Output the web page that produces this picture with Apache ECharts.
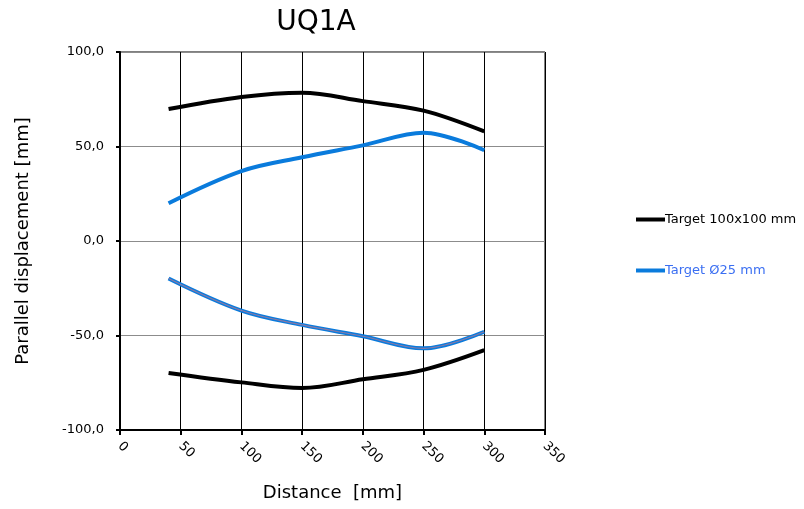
<!DOCTYPE html>
<html>
<head>
<meta charset="utf-8">
<script src="https://cdn.jsdelivr.net/npm/echarts@6/dist/echarts.min.js"></script>
<style>html,body{margin:0;padding:0;background:#fff}#c{width:804px;height:509px}</style>
</head>
<body>
<div id="c"></div>
<script>
const distances = [40, 100, 150, 200, 250, 300];
const target100Upper = [69.8, 76.2, 78.5, 74.0, 69.0, 58.0];
const target100Lower = [-69.8, -74.8, -77.8, -73.2, -68.2, -57.8];
const target25Upper = [20.0, 37.0, 44.3, 50.6, 57.3, 48.0];
const target25Lower = [-19.8, -36.8, -44.4, -50.4, -56.8, -48.0];
const titleText = 'UQ1A';
const xName = 'Distance  [mm]';
const yName = 'Parallel displacement [mm]';
const name100 = 'Target 100x100 mm';
const name25 = 'Target Ø25 mm';

const pairs = (xs, ys) => xs.map((x, i) => [x, ys[i]]);
const font = 'DejaVu Sans, Verdana, sans-serif';
const fmt = v => v.toFixed(1).replace('.', ',');

const chart = echarts.init(document.getElementById('c'));
const lineSeries = (name, data, color, width, z) => ({
  name, type: 'line', data, smooth: 0.35, symbol: 'none', silent: true,
  lineStyle: { color, width: width || 4 }, itemStyle: { color }, z: z || 5
});
chart.setOption({
  animation: false,
  title: { text: titleText, left: 311, top: 4, textAlign: 'center',
    textStyle: { fontFamily: font, fontWeight: 'normal', fontSize: 28, color: '#000' } },
  grid: { left: 120, right: 259, top: 52, bottom: 79, show: true,
    borderColor: '#000', borderWidth: 1, backgroundColor: 'transparent' },
  legend: {
    orient: 'vertical', left: 631, top: 208, itemGap: 38, itemWidth: 29, itemHeight: 4,
    icon: 'rect',
    data: [
      { name: name100, textStyle: { color: '#000' } },
      { name: name25, textStyle: { color: '#3b6ff2' } }
    ],
    textStyle: { fontFamily: font, fontSize: 13, padding: [0, 0, 0, -5] }
  },
  xAxis: {
    type: 'value', min: 0, max: 350, interval: 50,
    name: xName, nameLocation: 'middle', nameGap: 54,
    nameTextStyle: { fontFamily: font, fontSize: 18, color: '#000' },
    axisLine: { onZero: false, lineStyle: { color: '#000', width: 2 } },
    axisTick: { show: true, length: 5, lineStyle: { color: '#000', width: 2 } },
    axisLabel: { rotate: -45, fontFamily: font, fontSize: 13, color: '#000', margin: 14 },
    splitLine: { show: true, lineStyle: { color: '#000', width: 1 } }
  },
  yAxis: {
    type: 'value', min: -100, max: 100, interval: 50,
    name: yName, nameLocation: 'middle', nameGap: 88,
    nameTextStyle: { fontFamily: font, fontSize: 18, color: '#000' },
    axisLine: { onZero: false, lineStyle: { color: '#000', width: 2 } },
    axisTick: { show: true, length: 4, lineStyle: { color: '#000', width: 2 } },
    axisLabel: { formatter: fmt, fontFamily: font, fontSize: 13, color: '#000', margin: 16 },
    splitLine: { show: true, lineStyle: { color: '#8c8c8c', width: 1 } }
  },
  series: [
    lineSeries(name100, pairs(distances, target100Upper), '#000000'),
    lineSeries(name100, pairs(distances, target100Lower), '#000000'),
    lineSeries(name25, pairs(distances, target25Upper), '#0a7bdc'),
    lineSeries(name25, pairs(distances, target25Lower), '#0a7bdc'),
    lineSeries('overlay', pairs(distances, target25Lower), '#8a7aa6', 1.2, 6)
  ]
});
</script>
</body>
</html>
